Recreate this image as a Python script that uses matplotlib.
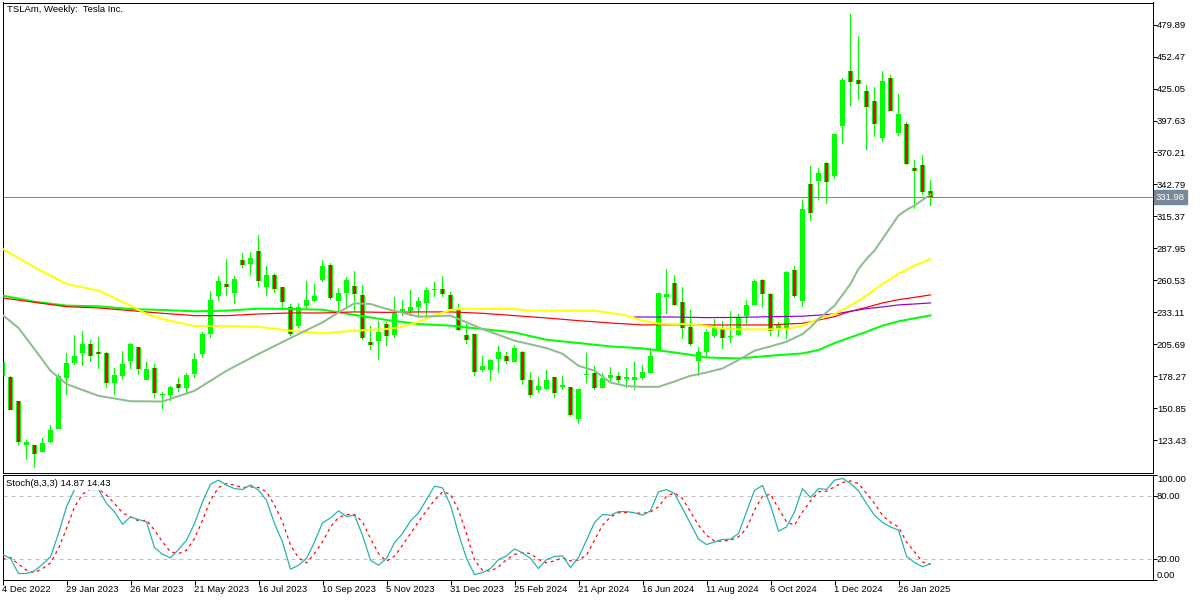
import matplotlib
matplotlib.use("Agg")
import matplotlib.pyplot as plt
import numpy as np

plt.rcParams["font.family"] = ["Liberation Sans", "DejaVu Sans"]

LIME   = "#00FF00"
RED    = "#FF0000"
YELLOW = "#FFFF00"
SEA    = "#8FBC8F"
VIOLET = "#9400D3"
TEAL   = "#20B2AA"
SLATE  = "#778899"
LEVEL  = "#C0C0C0"

# ── WEEKLY CANDLES ──────────────────────────────────────────────────────────
opens = [190.6, 177.7, 156.8, 119.3, 119.3, 113.3, 121.9, 133.3, 176.3, 189.8,
         197.8, 205.9, 199.2, 198.1, 172.0, 178.0, 190.9, 203.3, 175.4, 185.2,
         162.5, 162.5, 171.5, 167.7, 179.7, 197.5, 214.1, 246.8, 257.4, 249.9,
         278.0, 274.3, 285.8, 255.1, 265.1, 255.1, 237.9, 221.3, 238.5, 243.1,
         261.1, 273.8, 243.1, 249.9, 255.7, 248.0, 207.6, 208.7, 223.0, 213.8,
         234.5, 234.2, 237.9, 241.3, 251.9, 253.4, 248.2, 235.3, 213.8, 214.4,
         183.8, 183.8, 193.2, 195.5, 190.0, 199.0, 174.9, 166.6, 167.4, 177.5,
         169.1, 168.9, 141.9, 179.5, 181.4, 168.3, 176.9, 178.3, 176.0, 175.2,
         176.9, 181.2, 200.1, 246.5, 258.3, 241.9, 220.5, 191.5, 199.2, 213.0,
         218.7, 211.5, 213.8, 230.2, 239.6, 261.1, 248.8, 219.9, 218.7, 269.5,
         242.5, 343.4, 345.4, 361.4, 349.9, 392.6, 440.5, 432.8, 423.3, 414.7,
         382.6, 434.5, 386.6, 395.0, 357.1, 359.7, 337.0]
highs = [191.5, 178.3, 157.1, 123.6, 119.3, 125.0, 136.5, 180.1, 198.4, 213.8,
         217.3, 209.5, 212.1, 199.2, 185.5, 200.1, 207.0, 203.5, 190.6, 188.7,
         164.6, 170.0, 176.6, 181.2, 198.4, 216.2, 251.7, 264.6, 279.2, 264.6,
         284.3, 284.9, 299.0, 272.9, 267.1, 255.1, 240.2, 241.1, 260.3, 257.4,
         278.0, 275.7, 254.0, 263.7, 268.9, 256.6, 221.3, 225.9, 224.4, 246.5,
         243.9, 252.3, 246.5, 254.5, 259.4, 264.3, 250.6, 240.2, 223.0, 214.7,
         195.8, 193.0, 204.4, 199.2, 205.2, 199.5, 182.0, 177.7, 183.8, 177.7,
         178.3, 169.1, 167.4, 198.4, 186.9, 181.2, 186.3, 181.8, 185.2, 190.6,
         188.1, 202.1, 249.9, 270.6, 265.4, 255.1, 235.1, 203.5, 218.7, 227.3,
         225.9, 234.2, 231.6, 243.9, 262.0, 261.7, 249.3, 224.4, 268.9, 273.2,
         329.0, 358.2, 356.5, 362.3, 386.4, 434.5, 488.9, 470.0, 427.9, 426.2,
         440.2, 436.5, 420.1, 396.1, 363.4, 367.7, 346.2]
lows = [177.5, 149.1, 119.5, 106.6, 99.8, 113.3, 121.3, 133.3, 161.7, 188.1,
        186.6, 190.6, 184.0, 167.7, 162.5, 175.4, 184.0, 178.9, 175.4, 159.1,
        150.5, 156.8, 164.9, 163.1, 176.9, 194.1, 211.3, 243.1, 247.4, 239.9,
        271.4, 264.0, 254.5, 247.4, 249.3, 236.8, 212.4, 219.3, 236.2, 242.0,
        259.4, 243.9, 233.9, 237.9, 234.5, 209.3, 201.0, 192.4, 204.4, 210.7,
        230.2, 230.2, 229.6, 228.2, 246.5, 246.5, 235.3, 216.7, 206.1, 178.6,
        181.5, 173.7, 180.6, 188.3, 190.0, 171.1, 159.1, 164.0, 166.3, 159.1,
        166.3, 143.6, 137.6, 172.3, 166.6, 168.3, 173.7, 172.3, 168.3, 166.0,
        175.4, 180.6, 200.1, 231.6, 238.5, 210.4, 204.4, 178.6, 194.3, 210.7,
        201.6, 206.4, 212.4, 222.4, 239.6, 236.4, 213.0, 212.1, 210.1, 245.6,
        237.9, 311.8, 329.3, 325.9, 347.1, 377.4, 409.8, 415.0, 372.3, 383.2,
        378.9, 405.8, 384.3, 359.1, 321.3, 333.3, 324.1]
closes = [178.6, 149.6, 122.1, 121.6, 111.8, 121.0, 132.2, 178.6, 189.8, 195.8,
          205.9, 195.5, 196.9, 172.0, 179.5, 188.7, 206.1, 184.4, 184.4, 163.4,
          163.1, 169.1, 168.0, 179.5, 193.2, 214.4, 243.9, 260.3, 254.5, 262.0,
          273.4, 279.8, 259.7, 265.1, 253.1, 241.6, 214.1, 237.9, 243.9, 247.4,
          272.9, 245.0, 249.9, 260.9, 249.1, 210.7, 205.2, 216.4, 213.0, 232.2,
          236.2, 237.9, 243.1, 252.5, 253.4, 248.5, 236.2, 218.1, 209.5, 181.8,
          186.9, 192.4, 199.2, 190.9, 202.4, 174.9, 161.7, 169.7, 174.9, 164.2,
          170.6, 145.3, 167.2, 180.1, 168.0, 177.1, 179.5, 175.4, 177.7, 177.7,
          182.0, 195.8, 249.9, 249.1, 239.0, 219.9, 205.5, 199.0, 216.2, 219.3,
          210.7, 213.0, 229.0, 239.6, 260.3, 249.1, 216.7, 221.8, 268.0, 247.4,
          321.3, 318.1, 352.2, 344.8, 385.8, 432.2, 430.7, 429.0, 409.2, 394.6,
          431.3, 405.8, 403.0, 360.2, 354.2, 336.2, 331.98]

# ── MOVING AVERAGES (read at the bars listed) ───────────────────────────────
sea_bars = [0, 2, 4, 6, 8, 12, 16, 20, 24, 28, 32, 36, 40, 42, 44, 46, 48, 52, 56, 60,
            64, 68, 70, 72, 74, 76, 78, 80, 82, 84, 86, 88, 90, 92, 94, 96, 98, 100,
            101, 102, 103, 104, 106, 107, 108, 109, 110, 111, 112, 113, 114, 116]
sea_ma = [230.8, 219.6, 201.5, 182.9, 171.5, 161.4, 156.8, 156.5, 165.7, 182.9, 197.3,
          211.0, 224.4, 233.0, 240.8, 240.2, 236.0, 229.3, 230.2, 218.7, 208.7, 202.4,
          197.5, 187.2, 182.9, 172.8, 169.7, 169.1, 169.1, 173.7, 178.6, 181.4, 184.9,
          192.1, 200.1, 203.8, 207.8, 214.4, 220.1, 227.3, 233.0, 238.8, 257.4, 270.3,
          278.9, 286.0, 296.1, 306.1, 316.1, 321.0, 324.7, 334.2]

yellow_bars = [0, 4, 8, 12, 16, 18, 20, 24, 28, 32, 36, 40, 44, 48, 50, 52, 54, 56, 58, 60,
               64, 66, 70, 74, 76, 78, 80, 82, 86, 88, 90, 92, 96, 98, 100, 102, 104, 106,
               108, 110, 112, 114, 116]
yellow_ma = [287.5, 271.7, 257.4, 251.7, 238.8, 231.6, 227.3, 221.3, 221.3, 220.7, 217.3,
             215.0, 217.3, 218.7, 220.7, 225.0, 230.2, 235.1, 236.2, 235.9, 235.9, 234.5,
             234.5, 234.5, 232.5, 230.2, 225.9, 223.3, 222.9, 221.3, 219.0, 218.4, 218.4,
             218.7, 221.6, 227.3, 231.6, 238.8, 247.4, 257.4, 266.0, 273.2, 278.9]

red_bars = [0, 4, 8, 12, 16, 20, 24, 28, 32, 36, 40, 44, 48, 52, 56, 60, 64, 68, 72, 76,
            80, 84, 88, 92, 96, 98, 100, 104, 106, 108, 110, 112, 114, 116]
red_ma = [245.4, 241.6, 237.9, 236.8, 234.5, 232.2, 230.2, 230.2, 231.6, 232.5, 232.5,
          233.4, 233.0, 233.4, 233.4, 232.2, 230.2, 228.2, 225.9, 223.9, 222.2, 222.4,
          222.2, 222.2, 222.2, 223.0, 223.6, 229.3, 233.9, 237.3, 241.1, 243.9, 245.9, 248.0]

lime_bars = [0, 4, 8, 12, 16, 20, 24, 28, 32, 36, 40, 44, 48, 52, 56, 60, 64, 68, 72, 76,
             80, 84, 86, 88, 92, 96, 100, 102, 104, 106, 108, 110, 112, 114, 116]
lime_ma = [247.4, 242.2, 238.8, 238.2, 235.9, 235.1, 233.9, 234.5, 236.2, 235.9, 235.3,
           230.8, 226.5, 223.0, 221.6, 218.7, 215.8, 209.5, 206.7, 203.8, 202.1, 198.6,
           196.6, 194.3, 193.5, 195.8, 197.8, 200.7, 206.7, 211.5, 216.4, 221.6, 225.3,
           227.9, 230.4]

violet_bars = [79, 84, 88, 92, 96, 100, 104, 106, 108, 110, 112, 114, 116]
violet_ma = [229.0, 229.0, 228.5, 228.7, 229.3, 229.7, 231.6, 233.9, 236.2, 237.7, 239.4,
             240.2, 241.1]

# ── STOCHASTIC ───────────────────────────────────────────────────────────────
stoch_main = [23.8, 20.0, 5.7, 5.7, 8.2, 14.6, 21.5, 43.8, 69.2, 85.7,
              89.8, 85.7, 85.7, 72.4, 64.4, 52.7, 59.6, 57.1, 54.9, 30.4,
              24.1, 20.6, 28.5, 37.4, 53.3, 73.9, 90.8, 94.6, 89.8, 86.6,
              85.7, 90.1, 85.1, 75.5, 53.3, 35.8, 9.8, 13.6, 20.0, 35.8,
              53.9, 58.7, 65.4, 60.0, 61.2, 42.2, 18.4, 13.6, 20.0, 35.2,
              43.8, 55.8, 63.5, 76.2, 88.9, 87.3, 70.8, 43.8, 20.0, 4.7,
              6.6, 10.4, 19.0, 22.5, 29.2, 25.4, 20.0, 10.4, 19.0, 21.9,
              22.5, 11.4, 20.9, 37.4, 54.3, 61.9, 61.2, 64.7, 64.7, 63.5,
              61.2, 65.4, 83.5, 85.7, 81.9, 67.6, 53.3, 38.4, 33.3, 35.8,
              38.1, 38.4, 43.8, 64.4, 85.0, 89.5, 70.8, 46.0, 50.1, 64.4,
              86.6, 78.1, 86.6, 85.7, 94.6, 96.2, 91.4, 84.4, 72.4, 61.2,
              54.3, 50.1, 46.9, 22.2, 16.2, 12.3, 14.87]
stoch_signal = [19.3, 20.9, 14.6, 8.9, 6.6, 10.4, 15.8, 29.5, 48.5, 69.2,
                81.2, 86.3, 86.0, 80.3, 72.4, 63.5, 59.6, 55.8, 56.5, 47.0,
                35.8, 26.3, 24.7, 27.9, 39.0, 56.5, 75.5, 87.6, 91.4, 89.8,
                87.6, 88.2, 87.6, 83.5, 70.8, 54.9, 32.7, 20.6, 15.8, 24.7,
                35.8, 50.1, 59.0, 61.9, 61.9, 54.9, 39.0, 24.7, 17.4, 22.2,
                32.7, 43.8, 54.9, 65.4, 75.5, 83.5, 81.2, 66.0, 43.8, 18.4,
                8.9, 7.9, 12.0, 19.0, 23.8, 25.7, 24.7, 19.0, 15.8, 17.7,
                20.9, 17.7, 18.4, 23.1, 37.4, 51.7, 59.6, 63.5, 63.8, 63.8,
                62.8, 64.4, 69.2, 79.3, 82.5, 77.1, 64.4, 51.7, 42.2, 36.5,
                36.5, 37.4, 40.6, 48.5, 66.0, 79.3, 81.2, 67.6, 54.9, 51.7,
                64.4, 74.9, 83.5, 84.1, 88.2, 92.4, 93.9, 91.4, 81.9, 72.4,
                61.2, 54.3, 50.1, 35.8, 26.3, 16.8, 14.43]

# ── AXIS LABELS ──────────────────────────────────────────────────────────────
price_ticks = [479.89, 452.47, 425.05, 397.63, 370.21, 342.79, 315.37, 287.95,
               260.53, 233.11, 205.69, 178.27, 150.85, 123.43]
date_bars = [0, 8, 16, 24, 32, 40, 48, 56, 64, 72, 80, 88, 96, 104, 112]
date_labels = ["4 Dec 2022", "29 Jan 2023", "26 Mar 2023", "21 May 2023", "16 Jul 2023",
               "10 Sep 2023", "5 Nov 2023", "31 Dec 2023", "25 Feb 2024", "21 Apr 2024",
               "16 Jun 2024", "11 Aug 2024", "6 Oct 2024", "1 Dec 2024", "26 Jan 2025"]
last_price = 331.98

PX = 0.72   # one pixel in points at dpi 100
FS = 6.8

fig = plt.figure(figsize=(12, 6), dpi=100, facecolor="white")
ax = fig.add_axes([2.5 / 1200, 1 - 472.5 / 600, 1150 / 1200, 470 / 600])
sub = fig.add_axes([2.5 / 1200, 1 - 579.5 / 600, 1150 / 1200, 105 / 600])

# ── PRICE PANEL ──────────────────────────────────────────────────────────────
bars = np.arange(len(opens))
o, h, l, c = map(np.array, (opens, highs, lows, closes))
down = c < o

# wicks as thin bars so they stay pure lime once snapped to the pixel grid
ax.bar(bars, h - l, bottom=l, width=0.125, color=LIME, linewidth=0, zorder=2)
ax.bar(bars[~down], (c - o)[~down], bottom=o[~down], width=0.625, color=LIME,
       linewidth=0, zorder=3)
ax.bar(bars[down], (o - c)[down], bottom=c[down], width=0.625, color=LIME,
       linewidth=0, zorder=3)
ax.bar(bars[down], (o - c)[down], bottom=c[down], width=0.375, color=RED,
       linewidth=0, zorder=3.5)

ax.axhline(last_price, color=SLATE, linewidth=PX, zorder=1)
ax.plot(lime_bars, lime_ma, color=LIME, linewidth=2 * PX, zorder=4)
ax.plot(red_bars, red_ma, color=RED, linewidth=PX * 1.2, zorder=5)
ax.plot(violet_bars, violet_ma, color=VIOLET, linewidth=PX * 1.2, zorder=5)
ax.plot(yellow_bars, yellow_ma, color=YELLOW, linewidth=2 * PX, zorder=6)
ax.plot(sea_bars, sea_ma, color=SEA, linewidth=2 * PX, zorder=6)

ax.set_xlim(0, 143.75)
ax.set_ylim(95.6, 498.9)
ax.set_xticks([])
ax.yaxis.tick_right()
ax.set_yticks(price_ticks)
ax.set_yticklabels([f"{v:.2f}" for v in price_ticks])
ax.tick_params(axis="y", length=2.88, width=PX, labelsize=FS, pad=0.3)

ax.text(1.0030, last_price, f"{last_price:.2f}", transform=ax.get_yaxis_transform(),
        fontsize=FS, color="white", va="center", ha="left", clip_on=False,
        bbox=dict(facecolor=SLATE, edgecolor=SLATE, pad=1.6))
ax.text(4.5 / 1150, 1 - 7.5 / 470, "TSLAm, Weekly:  Tesla Inc.", transform=ax.transAxes,
        fontsize=FS, va="center", ha="left", color="black")

# ── STOCHASTIC PANEL ─────────────────────────────────────────────────────────
sub.axhline(80, color=LEVEL, linewidth=PX, linestyle=(0, (4, 4)), zorder=1)
sub.axhline(20, color=LEVEL, linewidth=PX, linestyle=(0, (4, 4)), zorder=1)
sub.plot(bars, stoch_main, color=TEAL, linewidth=PX * 1.2, zorder=3)
sub.plot(bars, stoch_signal, color=RED, linewidth=PX * 1.2, linestyle=(0, (2.5, 3)), zorder=2)

sub.set_xlim(0, 143.75)
sub.set_ylim(0, 100)
sub.yaxis.tick_right()
sub.set_yticks([0, 20, 80, 100])
sub.set_yticklabels(["0.00", "20.00", "80.00", "100.00"])
sub.get_yticklabels()[0].set_va("bottom")
sub.get_yticklabels()[3].set_va("top")
sub.tick_params(axis="y", length=2.88, width=PX, labelsize=FS, pad=0.3)
sub.set_xticks(date_bars)
sub.set_xticklabels(date_labels, ha="left")
sub.tick_params(axis="x", length=3.6, width=PX, labelsize=FS, pad=0.5)

sub.text(3.5 / 1150, 1 - 8.8 / 105, "Stoch(8,3,3) 14.87 14.43", transform=sub.transAxes,
         fontsize=FS, va="center", ha="left", color="black", zorder=5,
         bbox=dict(facecolor="white", edgecolor="none", pad=1.5))

for a in (ax, sub):
    for spine in a.spines.values():
        spine.set_linewidth(PX)
        spine.set_color("black")

fig.savefig("out.png", dpi=100)
